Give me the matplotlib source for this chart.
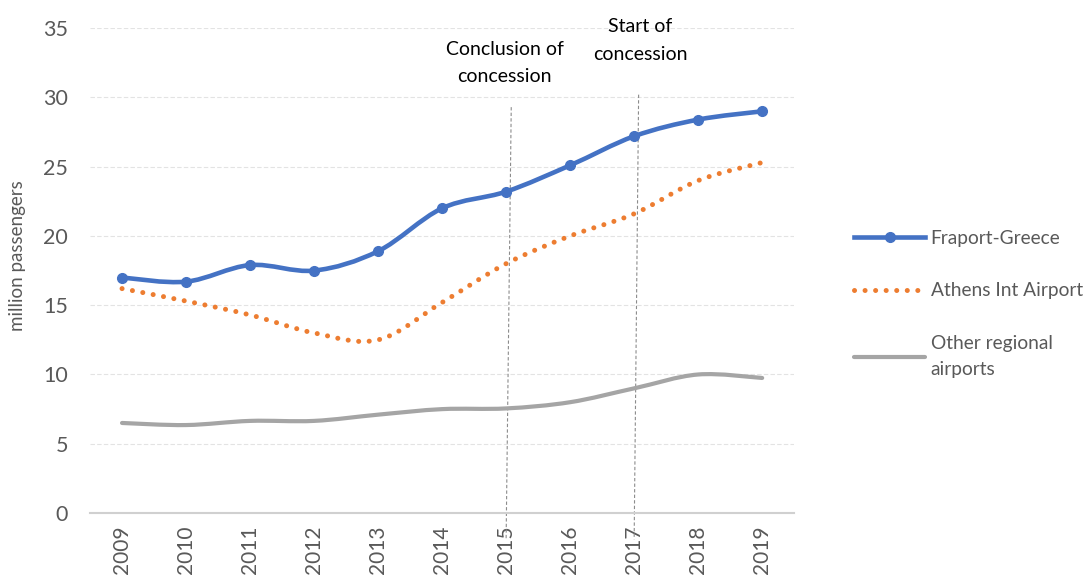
import matplotlib.pyplot as plt
from matplotlib.path import Path
from matplotlib.patches import PathPatch
from matplotlib.lines import Line2D

plt.rcParams['font.family'] = ['Lato', 'DejaVu Sans']

years = ['2009', '2010', '2011', '2012', '2013', '2014', '2015', '2016', '2017', '2018', '2019']
fraport = [17.0, 16.7, 17.9, 17.5, 18.9, 22.0, 23.2, 25.1, 27.2, 28.4, 29.0]
athens = [16.2, 15.3, 14.3, 13.0, 12.5, 15.2, 18.0, 20.0, 21.6, 24.0, 25.3]
other = [6.5, 6.35, 6.65, 6.65, 7.1, 7.5, 7.55, 8.0, 9.0, 10.0, 9.75]

blue = '#4472c4'
orange = '#ed7d31'
grey = '#a5a5a5'
txt = '#595959'


def smooth_path(xs, ys):
    # excel-like smoothing: bezier segments with catmull-rom control points
    pts = list(zip(xs, ys))
    verts = [pts[0]]
    codes = [Path.MOVETO]
    n = len(pts)
    for i in range(n - 1):
        p0 = pts[i - 1] if i > 0 else pts[i]
        p1 = pts[i]
        p2 = pts[i + 1]
        p3 = pts[i + 2] if i + 2 < n else pts[i + 1]
        c1 = (p1[0] + (p2[0] - p0[0]) / 6, p1[1] + (p2[1] - p0[1]) / 6)
        c2 = (p2[0] - (p3[0] - p1[0]) / 6, p2[1] - (p3[1] - p1[1]) / 6)
        verts += [c1, c2, p2]
        codes += [Path.CURVE4] * 3
    return Path(verts, codes)


fig = plt.figure(figsize=(10.9, 5.75), dpi=100)
ax = fig.add_axes([0.0826, 0.1078, 0.646, 0.8432])

x = list(range(len(years)))

p = PathPatch(smooth_path(x, other), fill=False, edgecolor=grey, lw=3.0, capstyle='round', zorder=3)
ax.add_patch(p)
p = PathPatch(smooth_path(x, athens), fill=False, edgecolor=orange, lw=3.6,
              linestyle=(0, (0.01, 2.1)), capstyle='round', zorder=3)
ax.add_patch(p)
p = PathPatch(smooth_path(x, fraport), fill=False, edgecolor=blue, lw=3.3, capstyle='round', zorder=4)
ax.add_patch(p)
ax.plot(x, fraport, 'o', color=blue, markersize=7, zorder=5)

# concession markers
ax.plot([6.08, 6.0], [29.3, -1.9], color='#8c8c8c', lw=0.8, ls=(0, (3, 2)), clip_on=False, zorder=2)
ax.plot([8.07, 8.0], [30.2, -1.9], color='#8c8c8c', lw=0.8, ls=(0, (3, 2)), clip_on=False, zorder=2)
ax.text(5.98, 32.5, 'Conclusion of\nconcession', ha='center', va='center', fontsize=14,
        color='black', linespacing=1.75)
ax.text(8.1, 34.1, 'Start of\nconcession', ha='center', va='center', fontsize=14,
        color='black', linespacing=1.75)

ax.set_xlim(-0.5, len(years) - 0.5)
ax.set_ylim(0, 35)
ax.set_yticks(range(0, 36, 5))
ax.set_xticks(x)
ax.set_xticklabels(years, rotation=90)
ax.tick_params(axis='x', length=0, labelsize=15, labelcolor=txt, pad=9)
ax.tick_params(axis='y', length=0, labelsize=15.5, labelcolor=txt, pad=16)
ax.grid(axis='y', color='#e3e3e3', lw=0.8, ls=(0, (4, 2)))
ax.set_axisbelow(True)
for s in ['top', 'right', 'left']:
    ax.spines[s].set_visible(False)
ax.spines['bottom'].set_color('#d0d0d0')
ax.spines['bottom'].set_linewidth(1.5)
fig.text(18 / 1090, 0.556, 'million passengers', rotation=90, ha='center', va='center',
         fontsize=13.5, color=txt)

handles = [
    Line2D([], [], color=blue, lw=3.3, marker='o', markersize=7),
    Line2D([], [], color=orange, lw=3.6, ls=(0, (0.01, 2.1)), dash_capstyle='round'),
    Line2D([], [], color=grey, lw=3.0, solid_capstyle='round'),
]
labels = ['Fraport-Greece', 'Athens Int Airport', 'Other regional\nairports']
leg = fig.legend(handles, labels, loc='upper left', bbox_to_anchor=(0.768, 0.63), frameon=False,
                 fontsize=13.75, labelcolor=txt, handlelength=3.7, handletextpad=0.3,
                 labelspacing=1.85)
leg.get_texts()[2].set_linespacing(1.7)

plt.savefig('out.png')
